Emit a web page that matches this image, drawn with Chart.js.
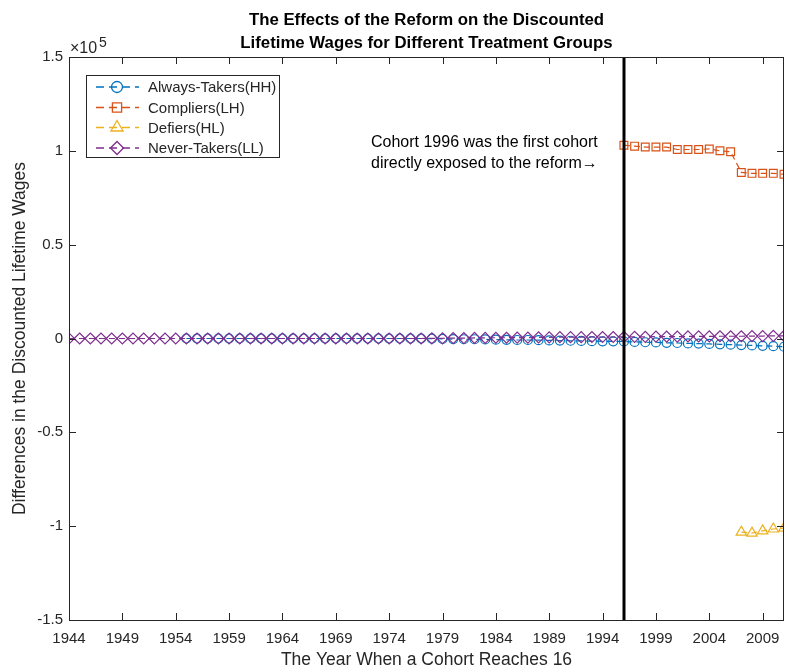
<!DOCTYPE html>
<html>
<head>
<meta charset="utf-8">
<script src="https://cdn.jsdelivr.net/npm/chart.js@4"></script>
<style>
  body { margin: 0; background: #fff; }
  canvas { display: block; }
</style>
</head>
<body>
<canvas id="wages-chart" width="786" height="669"></canvas>
<script>
// cohort years for each group
const alwaysYears = [];
for (let y = 1955; y <= 2011; y++) alwaysYears.push(y);
const neverYears = [];
for (let y = 1944; y <= 2011; y++) neverYears.push(y);
const complierYears = [1996, 1997, 1998, 1999, 2000, 2001, 2002, 2003, 2004, 2005, 2006, 2007, 2008, 2009, 2010, 2011];
const defierYears = [2007, 2008, 2009, 2010, 2011];

// differences in discounted lifetime wages
const alwaysTakers = [
  0, 0, 0, 0, 0, 0, 0, 0, 0, 0,              // 1955-1964
  0, 0, 0, 0, 0, 0, 0, 0, 0, 0,              // 1965-1974
  0, 0, 0, -100, -200, -300, -400, -400, -500, -600,   // 1975-1984
  -700, -800, -800, -900, -1000, -1100, -1200, -1300, -1400, -1500, // 1985-1994
  -1500, -1600,                              // 1995-1996
  -1800, -2000, -2100, -2300, -2400, -2600, -2700, -2900, -3100, -3300, // 1997-2006
  -3500, -3700, -3900, -4100, -4400          // 2007-2011
];
const compliers = [103000, 102500, 102000, 102000, 102000, 100700, 100700, 100700, 101000, 100000, 99500, 88500, 88000, 88000, 88000, 87500];
const defiers = [-103200, -103700, -102500, -101500, -101000];
const neverTakers = [
  0, 0, 0, 0, 0, 0, 0, 0, 0, 0,              // 1944-1953
  0, 0, 0, 0, 0, 0, 0, 0, 0, 0,              // 1954-1963
  0, 0, 0, 0, 0, 0, 0, 0, 0, 0,              // 1964-1973
  0, 0, 0, 0, 100, 100, 200, 200, 300, 300,  // 1974-1983
  400, 400, 500, 500, 600, 600, 700, 700, 700, 800, // 1984-1993
  800, 800, 900, 900, 900, 1000, 1000, 1000, 1100, 1100, // 1994-2003
  1100, 1200, 1200, 1200, 1300, 1300, 1400, 1400 // 2004-2011
];

const xTickYears = [1944, 1949, 1954, 1959, 1964, 1969, 1974, 1979, 1984, 1989, 1994, 1999, 2004, 2009];
const yTickValues = [-150000, -100000, -50000, 0, 50000, 100000, 150000];
const reformYear = 1996;

const titleLines = ['The Effects of the Reform on the Discounted', 'Lifetime Wages for Different Treatment Groups'];
const noteLines = ['Cohort 1996 was the first cohort', 'directly exposed to the reform\u2192'];

const FONT = '"Liberation Sans", Arial, Helvetica, sans-serif';
const AXIS_GREY = '#262626';

function toPoints(xs, ys) {
  return xs.map((x, i) => ({ x: x, y: ys[i] }));
}

function series(label, xs, ys, color, style, radius, order) {
  return {
    label: label,
    data: toPoints(xs, ys),
    borderColor: color,
    backgroundColor: 'rgba(0,0,0,0)',
    borderWidth: 1.2,
    borderDash: [6, 4],
    pointStyle: style,
    pointRadius: radius,
    pointBorderColor: color,
    pointBackgroundColor: 'rgba(0,0,0,0)',
    pointBorderWidth: 1.2,
    tension: 0,
    order: order,
  };
}

// frame, inward ticks, reform line, note, legend, title
const decorations = {
  id: 'decorations',
  afterDatasetsDraw(chart) {
    const ctx = chart.ctx;
    const area = chart.chartArea;
    const xs = chart.scales.x;
    const ys = chart.scales.y;
    ctx.save();

    // vertical line at the reform cohort
    const rx = Math.round(xs.getPixelForValue(reformYear));
    ctx.strokeStyle = '#000';
    ctx.lineWidth = 3;
    ctx.beginPath();
    ctx.moveTo(rx, area.top);
    ctx.lineTo(rx, area.bottom);
    ctx.stroke();

    // box
    ctx.strokeStyle = AXIS_GREY;
    ctx.lineWidth = 1;
    ctx.strokeRect(Math.round(area.left) + 0.5, Math.round(area.top) + 0.5,
      Math.round(area.right - area.left) - 1, Math.round(area.bottom - area.top));

    // inward tick marks on all sides
    const tl = 7;
    ctx.beginPath();
    xTickYears.forEach(v => {
      const px = Math.round(xs.getPixelForValue(v)) + 0.5;
      ctx.moveTo(px, area.bottom);
      ctx.lineTo(px, area.bottom - tl);
      ctx.moveTo(px, area.top);
      ctx.lineTo(px, area.top + tl);
    });
    yTickValues.forEach(v => {
      const py = Math.round(ys.getPixelForValue(v)) + 0.5;
      ctx.moveTo(area.left, py);
      ctx.lineTo(area.left + tl, py);
      ctx.moveTo(area.right, py);
      ctx.lineTo(area.right - tl, py);
    });
    ctx.stroke();

    // exponent label
    ctx.fillStyle = AXIS_GREY;
    ctx.textAlign = 'left';
    ctx.textBaseline = 'alphabetic';
    ctx.font = '16px ' + FONT;
    ctx.fillText('\u00d710', area.left + 1, area.top - 4);
    ctx.font = '14px ' + FONT;
    ctx.fillText('5', area.left + 30, area.top - 10);

    // note next to the reform line
    ctx.fillStyle = '#000';
    ctx.font = '16px ' + FONT;
    ctx.textBaseline = 'middle';
    const nx = xs.getPixelForValue(1972.3);
    ctx.fillText(noteLines[0], nx, ys.getPixelForValue(104400));
    ctx.fillText(noteLines[1], nx, ys.getPixelForValue(93000));

    // legend
    const lx = 86.5, ly = 75.5, lw = 193, lh = 82;
    ctx.fillStyle = '#fff';
    ctx.fillRect(lx, ly, lw, lh);
    ctx.strokeStyle = AXIS_GREY;
    ctx.lineWidth = 1;
    ctx.strokeRect(lx, ly, lw, lh);
    const rowY = [87, 107.5, 127.5, 148];
    chart.data.datasets.forEach((ds, i) => {
      const y = rowY[i];
      ctx.strokeStyle = ds.borderColor;
      ctx.lineWidth = 1.3;
      ctx.setLineDash([8, 5]);
      ctx.beginPath();
      ctx.moveTo(96, y);
      ctx.lineTo(139, y);
      ctx.stroke();
      ctx.setLineDash([]);
      ctx.fillStyle = 'rgba(0,0,0,0)';
      Chart.helpers.drawPoint(ctx, {
        pointStyle: ds.pointStyle,
        radius: ds.pointRadius + 1,
        rotation: 0,
        borderWidth: 1.3,
      }, 117, y);
      ctx.fillStyle = AXIS_GREY;
      ctx.font = '15px ' + FONT;
      ctx.textAlign = 'left';
      ctx.textBaseline = 'middle';
      ctx.fillText(ds.label, 148, y + 1);
    });

    // title
    ctx.fillStyle = '#000';
    ctx.font = 'bold 16.8px ' + FONT;
    ctx.textAlign = 'center';
    ctx.textBaseline = 'middle';
    const cx = (area.left + area.right) / 2;
    ctx.fillText(titleLines[0], cx, 20);
    ctx.fillText(titleLines[1], cx, 43);

    ctx.restore();
  },
};

const canvas = document.getElementById('wages-chart');
new Chart(canvas, {
  type: 'line',
  data: {
    datasets: [
      series('Always-Takers(HH)', alwaysYears, alwaysTakers, '#0072BD', 'circle', 4.5, 4),
      series('Compliers(LH)', complierYears, compliers, '#D95319', 'rect', 5.5, 3),
      series('Defiers(HL)', defierYears, defiers, '#EDB120', 'triangle', 6, 2),
      series('Never-Takers(LL)', neverYears, neverTakers, '#7E2F8E', 'rectRot', 5.5, 1),
    ],
  },
  options: {
    responsive: false,
    animation: false,
    layout: { autoPadding: false, padding: { top: 57, right: 2, left: 0, bottom: 0 } },
    plugins: {
      legend: { display: false },
      tooltip: { enabled: false },
      title: { display: false },
    },
    scales: {
      x: {
        type: 'linear',
        min: 1944,
        max: 2011,
        grid: { display: false, drawTicks: false },
        border: { display: false },
        afterFit(scale) {
          scale.height = 49;
          scale.paddingLeft = 0;
          scale.paddingRight = 0;
        },
        afterBuildTicks(scale) { scale.ticks = xTickYears.map(v => ({ value: v })); },
        ticks: {
          padding: 10,
          color: AXIS_GREY,
          font: { family: FONT, size: 15 },
          maxRotation: 0,
          autoSkip: false,
          callback: v => String(v),
        },
        title: {
          display: true,
          text: 'The Year When a Cohort Reaches 16',
          color: AXIS_GREY,
          font: { family: FONT, size: 17.5, lineHeight: 1 },
          padding: { top: 0, bottom: 0 },
        },
      },
      y: {
        min: -150000,
        max: 150000,
        grid: { display: false, drawTicks: false },
        border: { display: false },
        afterFit(scale) {
          scale.width = 69;
          scale.paddingTop = 0;
          scale.paddingBottom = 0;
        },
        afterBuildTicks(scale) { scale.ticks = yTickValues.map(v => ({ value: v })); },
        ticks: {
          padding: 6,
          color: AXIS_GREY,
          font: { family: FONT, size: 15 },
          callback: v => String(v / 100000),
        },
        title: {
          display: true,
          text: 'Differences in the Discounted Lifetime Wages',
          color: AXIS_GREY,
          font: { family: FONT, size: 17.5, lineHeight: 1 },
          padding: { top: 11, bottom: 11 },
        },
      },
    },
  },
  plugins: [decorations],
});
</script>
</body>
</html>
